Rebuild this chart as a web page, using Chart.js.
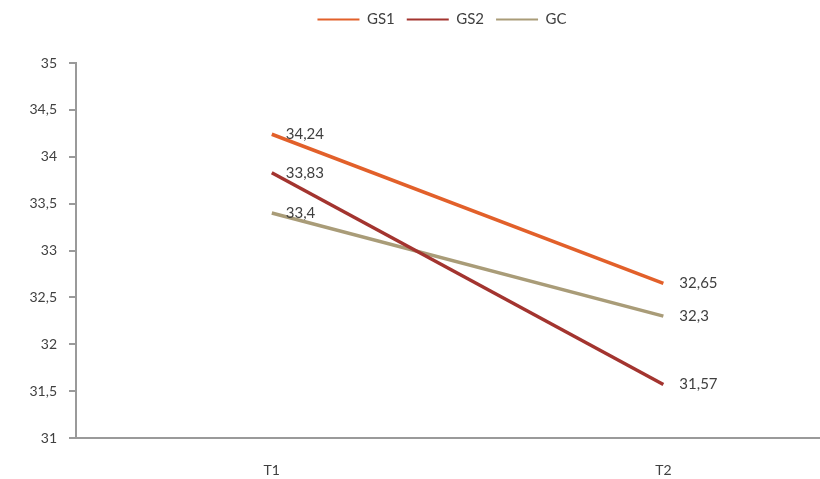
<!DOCTYPE html>
<html>
<head>
<meta charset="utf-8">
<script src="https://cdn.jsdelivr.net/npm/chart.js@4.4.0/dist/chart.umd.min.js"></script>
<style>
  html, body { margin: 0; padding: 0; background: #fff; }
  #wrap { width: 820px; height: 479px; }
</style>
</head>
<body>
<div id="wrap"><canvas id="lineChart" width="820" height="479"></canvas></div>
<script>
const categories = ["T1", "T2"];
const gs1Values = [34.24, 32.65];
const gs2Values = [33.83, 31.57];
const gcValues = [33.4, 32.3];

const fontName = "Lato, 'Open Sans', sans-serif";
const textColor = "#404040";
const axisColor = "#9a9a9a";

// comma as decimal mark, like the source
function commaNum(v) {
    return String(Math.round(v * 100) / 100).replace('.', ',');
}

function toPoints(values) {
    return values.map((v, i) => ({ x: i, y: v }));
}

// draws the value next to each point
const valueLabels = {
    id: 'valueLabels',
    afterDatasetsDraw(chart) {
        const ctx = chart.ctx;
        ctx.save();
        ctx.font = "15px " + fontName;
        ctx.fillStyle = textColor;
        ctx.textAlign = 'left';
        ctx.textBaseline = 'middle';
        chart.data.datasets.forEach((ds, di) => {
            const meta = chart.getDatasetMeta(di);
            meta.data.forEach((pt, i) => {
                const dx = i === 0 ? 14 : 16;
                ctx.fillText(commaNum(ds.data[i].y), pt.x + dx, pt.y);
            });
        });
        ctx.restore();
    }
};

// more room under the legend, and push it a bit right
const legendSpace = {
    id: 'legendSpace',
    beforeInit(chart) {
        const origFit = chart.legend.fit;
        chart.legend.fit = function () {
            origFit.bind(chart.legend)();
            this.height += 26;
        };
    },
    afterLayout(chart) {
        chart.legend.left += 32;
        chart.legend.right += 32;
        chart.legend.adjustHitBoxes();
    }
};

let lineGraphConfig = {
    type: 'line',
    data: {
        datasets: [
            { label: "GS1", data: toPoints(gs1Values), borderColor: '#e2602a', backgroundColor: '#e2602a', borderWidth: 3.5, pointRadius: 0, tension: 0 },
            { label: "GS2", data: toPoints(gs2Values), borderColor: '#a3342f', backgroundColor: '#a3342f', borderWidth: 3.5, pointRadius: 0, tension: 0 },
            { label: "GC", data: toPoints(gcValues), borderColor: '#a99c78', backgroundColor: '#a99c78', borderWidth: 3.5, pointRadius: 0, tension: 0 }
        ]
    },
    options: {
        responsive: false,
        animation: false,
        layout: { padding: { top: 0, right: 0, left: 0, bottom: 0 } },
        plugins: {
            tooltip: { enabled: false },
            legend: {
                position: 'top',
                labels: {
                    boxWidth: 42,
                    boxHeight: 2,
                    padding: 12,
                    color: textColor,
                    font: { family: fontName, size: 15 },
                    generateLabels(chart) {
                        const items = Chart.defaults.plugins.legend.labels.generateLabels(chart);
                        items.forEach(item => { item.lineWidth = 0; });
                        return items;
                    }
                }
            }
        },
        scales: {
            x: {
                type: 'linear',
                min: -0.5,
                max: 1.4,
                afterFit(scale) { scale.height = 41; },
                afterBuildTicks(scale) {
                    scale.ticks = categories.map((c, i) => ({ value: i }));
                },
                ticks: {
                    color: textColor,
                    font: { family: fontName, size: 14 },
                    padding: 16,
                    callback: (v) => categories[v] !== undefined ? categories[v] : ''
                },
                grid: { display: false },
                border: { display: true, color: axisColor, width: 2 }
            },
            y: {
                min: 31,
                max: 35,
                afterFit(scale) { scale.width = 76; },
                ticks: {
                    stepSize: 0.5,
                    color: textColor,
                    font: { family: fontName, size: 14 },
                    padding: 12,
                    callback: (v) => commaNum(v)
                },
                grid: { drawOnChartArea: false, drawTicks: true, tickLength: 7, color: axisColor, lineWidth: 2 },
                border: { display: true, color: axisColor, width: 2 }
            }
        }
    },
    plugins: [valueLabels, legendSpace]
};

let lineGraph = new Chart(document.getElementById("lineChart"), lineGraphConfig);
</script>
</body>
</html>
